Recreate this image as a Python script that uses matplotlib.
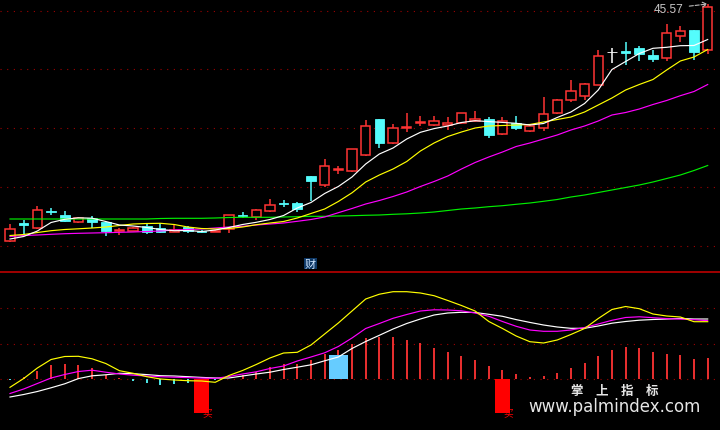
import matplotlib
matplotlib.use('Agg')
import matplotlib.pyplot as plt
import numpy as np

plt.rcParams['font.family'] = ['Liberation Sans', 'Noto Sans CJK SC', 'DejaVu Sans']

# daily bars
opens = [21.87, 23.67, 23.17, 24.87, 24.47, 23.74, 24.17, 23.74, 22.87, 22.92,
         23.42, 23.17, 22.82, 23.32, 22.92, 22.82, 23.07, 24.44, 24.32, 24.84,
         25.67, 25.67, 28.37, 27.50, 29.02, 28.84, 30.50, 34.07, 31.64, 33.19,
         33.69, 33.50, 33.50, 33.72, 33.84, 34.07, 32.57, 33.67, 32.90, 33.14,
         34.64, 36.00, 36.40, 37.50, 40.74, 40.90, 41.17, 40.47, 40.17, 42.34,
         42.97, 41.00]
closes = [23.07, 23.52, 24.97, 24.77, 23.90, 24.22, 23.80, 22.90, 22.97, 23.17,
          22.77, 22.80, 22.97, 22.87, 22.77, 22.92, 24.47, 24.37, 24.97, 25.47,
          25.59, 25.07, 27.90, 29.34, 29.12, 31.07, 33.34, 31.70, 33.14, 33.27,
          33.77, 33.84, 33.64, 34.64, 34.07, 32.47, 33.87, 33.17, 33.40, 34.57,
          35.97, 36.84, 37.57, 40.34, 40.74, 40.67, 40.57, 40.07, 42.67, 42.90,
          40.80, 45.24]
highs = [23.57, 23.97, 25.37, 25.17, 24.87, 24.27, 24.37, 23.77, 23.22, 23.32,
         23.62, 23.64, 23.62, 23.37, 23.02, 23.02, 24.47, 24.77, 25.12, 26.07,
         25.97, 25.77, 28.37, 30.07, 29.40, 31.07, 33.97, 34.07, 33.57, 34.67,
         34.34, 34.34, 34.24, 34.67, 34.90, 34.30, 34.30, 34.40, 33.57, 36.30,
         36.07, 37.97, 37.67, 41.00, 41.14, 41.80, 41.40, 40.97, 43.57, 43.34,
         42.97, 45.57]
lows = [21.77, 22.57, 23.07, 24.47, 23.77, 23.67, 23.17, 22.40, 22.50, 22.87,
        22.57, 22.72, 22.77, 22.67, 22.64, 22.77, 22.64, 24.14, 23.97, 24.77,
        25.27, 24.77, 25.90, 27.24, 28.57, 28.77, 30.34, 31.20, 31.57, 32.74,
        33.34, 33.34, 32.97, 33.57, 33.74, 32.17, 32.52, 32.97, 32.74, 32.90,
        34.57, 35.80, 35.97, 37.47, 39.64, 39.47, 39.90, 39.74, 39.90, 41.74,
        40.00, 40.57]

ma5 = [22.07, 22.32, 22.87, 23.72, 24.04, 24.19, 24.15, 23.82, 23.47, 23.37,
       23.22, 23.02, 22.90, 22.92, 22.82, 22.97, 23.22, 23.52, 23.74, 24.02,
       24.42, 25.17, 25.72, 26.62, 27.32, 28.27, 29.57, 30.57, 31.17, 32.07,
       32.74, 33.11, 33.37, 33.72, 33.90, 33.81, 33.73, 33.64, 33.47, 33.62,
       34.22, 34.77, 35.62, 36.97, 39.02, 39.82, 40.62, 41.14, 41.24, 41.40,
       41.42, 42.02]
ma10 = [22.42, 22.52, 22.72, 22.90, 23.02, 23.09, 23.17, 23.27, 23.42, 23.57,
        23.62, 23.64, 23.52, 23.27, 23.12, 23.07, 23.12, 23.27, 23.50, 23.67,
        23.82, 24.17, 24.62, 25.07, 25.82, 26.69, 27.77, 28.47, 29.07, 29.82,
        30.87, 31.67, 32.32, 32.77, 33.17, 33.37, 33.42, 33.47, 33.52, 33.77,
        34.02, 34.27, 34.77, 35.47, 36.17, 36.97, 37.52, 38.02, 38.97, 39.87,
        40.27, 41.02]
ma20 = [22.32, 22.42, 22.47, 22.54, 22.60, 22.64, 22.67, 22.70, 22.74, 22.77,
        22.82, 22.87, 22.97, 23.02, 23.07, 23.17, 23.27, 23.34, 23.47, 23.57,
        23.67, 23.84, 24.02, 24.27, 24.70, 25.12, 25.57, 25.92, 26.32, 26.77,
        27.32, 27.82, 28.37, 29.07, 29.72, 30.27, 30.77, 31.32, 31.67, 32.07,
        32.47, 32.97, 33.37, 33.87, 34.47, 34.72, 35.07, 35.52, 35.92, 36.40,
        36.82, 37.52]
ma60 = [24.07, 24.07, 24.07, 24.07, 24.07, 24.07, 24.07, 24.07, 24.07, 24.07,
        24.07, 24.12, 24.14, 24.14, 24.14, 24.17, 24.22, 24.24, 24.24, 24.24,
        24.27, 24.30, 24.34, 24.34, 24.37, 24.40, 24.44, 24.47, 24.54, 24.59,
        24.67, 24.77, 24.92, 25.07, 25.17, 25.30, 25.40, 25.54, 25.67, 25.84,
        26.02, 26.27, 26.47, 26.72, 26.97, 27.22, 27.47, 27.77, 28.12, 28.47,
        28.92, 29.42]

# lower indicator panel
ind_yellow = [-0.083, 0.005, 0.110, 0.195, 0.225, 0.227, 0.202, 0.155, 0.083, 0.057,
              0.023, 0.000, -0.010, -0.017, -0.020, -0.033, 0.035, 0.085, 0.145, 0.210,
              0.260, 0.267, 0.340, 0.450, 0.560, 0.680, 0.800, 0.848, 0.873, 0.873,
              0.860, 0.833, 0.785, 0.735, 0.680, 0.575, 0.505, 0.430, 0.373, 0.360,
              0.390, 0.445, 0.505, 0.605, 0.695, 0.725, 0.703, 0.650, 0.630, 0.620,
              0.573, 0.573]
ind_pink = [-0.145, -0.100, -0.045, 0.010, 0.045, 0.075, 0.088, 0.068, 0.050, 0.038,
            0.030, 0.023, 0.018, 0.014, 0.009, 0.006, 0.025, 0.050, 0.072, 0.105,
            0.130, 0.180, 0.220, 0.262, 0.325, 0.410, 0.505, 0.555, 0.607, 0.645,
            0.680, 0.692, 0.690, 0.682, 0.660, 0.627, 0.575, 0.527, 0.490, 0.477,
            0.477, 0.490, 0.515, 0.550, 0.587, 0.615, 0.622, 0.613, 0.604, 0.599,
            0.593, 0.583]
ind_white = [-0.180, -0.155, -0.125, -0.088, -0.048, 0.004, 0.032, 0.042, 0.057, 0.053,
             0.044, 0.033, 0.030, 0.023, 0.016, 0.010, 0.010, 0.030, 0.050, 0.068,
             0.095, 0.118, 0.142, 0.182, 0.220, 0.305, 0.375, 0.437, 0.500, 0.555,
             0.600, 0.640, 0.660, 0.667, 0.665, 0.647, 0.627, 0.594, 0.566, 0.540,
             0.520, 0.507, 0.507, 0.530, 0.558, 0.575, 0.588, 0.595, 0.600, 0.606,
             0.600, 0.600]
ind_hist = [-0.008, 0.017, 0.083, 0.140, 0.150, 0.140, 0.110, 0.040, 0.007, -0.023,
            -0.040, -0.060, -0.050, -0.040, -0.020, -0.010, 0.005, 0.045, 0.075, 0.117,
            0.150, 0.150, 0.190, 0.250, 0.290, 0.350, 0.407, 0.417, 0.417, 0.390,
            0.360, 0.310, 0.273, 0.233, 0.190, 0.133, 0.090, 0.050, 0.023, 0.030,
            0.060, 0.110, 0.160, 0.230, 0.293, 0.320, 0.310, 0.273, 0.250, 0.240,
            0.200, 0.210]
buy_idx = [14, 36]
buy_val = -0.34
blue_idx = [24]
blue_val = 0.24

price_grid = [44.90, 39.04, 33.14, 27.24, 21.40]
ind_grid = [0.71, 0.355, 0.0]

RED = '#ff3434'
CYAN = '#54fcfc'
H = 431.0

fig = plt.figure(figsize=(7.2, 4.31), dpi=100, facecolor='black')
ax = fig.add_axes([0, 1 - 272 / H, 1, 272 / H])
ax2 = fig.add_axes([0, 0, 1, 158 / H])
for a in (ax, ax2):
    a.set_facecolor('black')
    a.set_xlim(-0.731, 51.9)
    a.set_xticks([])
    a.set_yticks([])
    for s in a.spines.values():
        s.set_visible(False)
ax.set_ylim(18.87, 46.07)
ax2.set_ylim(-0.51, 1.07)

for g in price_grid:
    ax.axhline(g, color='#a00000', lw=0.8, ls=(0, (1, 5)), zorder=1)
for g in ind_grid:
    ax2.axhline(g, color='#a00000', lw=0.8, ls=(0, (1, 5)), zorder=1)

fig.add_artist(plt.Line2D([0, 1], [1 - 272.5 / H] * 2, color='#cc0000', lw=1.1))

# candles
o = np.array(opens); c = np.array(closes); h = np.array(highs); l = np.array(lows)
x = np.arange(len(o))
up = c > o
down = c < o
flat = c == o
cols = np.where(up, RED, np.where(down, CYAN, '#ffffff'))
ax.vlines(x, l, h, colors=cols, lw=1.1, zorder=2)
lo = np.minimum(o, c)
bh = np.maximum(np.abs(c - o), 0.08)
ax.bar(x[up], bh[up], bottom=lo[up], width=0.68, facecolor='black',
       edgecolor=RED, lw=1.1, zorder=3)
ax.bar(x[down], bh[down], bottom=lo[down], width=0.7, facecolor=CYAN,
       edgecolor=CYAN, lw=0.6, zorder=3)
ax.bar(x[flat], bh[flat], bottom=lo[flat], width=0.7, facecolor='white',
       edgecolor='white', lw=0.6, zorder=3)

ax.plot(x, ma60, color='#00ee00', lw=0.85, zorder=4)
ax.plot(x, ma20, color='#ff00ff', lw=0.85, zorder=4)
ax.plot(x, ma10, color='#ffff00', lw=0.85, zorder=4)
ax.plot(x, ma5, color='white', lw=0.85, zorder=4)

ax.annotate('45.57', xy=(x[-1], h[-1]), xytext=(49.25, 45.12), ha='right', va='center',
            color='#c8c8c8', fontsize=8.5,
            arrowprops=dict(arrowstyle='->,head_length=0.35,head_width=0.2',
                            color='#bcbcbc', lw=0.8, ls='--', shrinkA=2, shrinkB=0))

ax.text(21.97, 19.62, '财', ha='center', va='center', fontsize=8, color='#cfe6ff',
        bbox=dict(boxstyle='square,pad=0.08', facecolor='#0e3866', edgecolor='none'))

# lower panel
hist = np.array(ind_hist)
hcols = np.where(hist >= 0, RED, CYAN)
ax2.vlines(x, 0, hist, colors=hcols, lw=1.3, zorder=2)
ax2.bar(buy_idx, [buy_val] * len(buy_idx), width=1.1, align='center', color='#ff0000', zorder=3)
ax2.bar(blue_idx, [blue_val] * len(blue_idx), width=1.4, color='#66ccff', zorder=3)
for i in buy_idx:
    ax2.text(i + 0.44, -0.33, '买', color='#ff0000', fontsize=7, ha='center', va='center', zorder=5)

ax2.plot(x, ind_white, color='white', lw=0.85, zorder=4)
ax2.plot(x, ind_pink, color='#ff00ff', lw=0.85, zorder=4)
ax2.plot(x, ind_yellow, color='#ffff00', lw=0.85, zorder=4)

fig.text(615 / 720, 1 - 392 / H, '掌　上　指　标', ha='center', va='center', fontsize=9,
         fontweight='bold', color='#e6e6e6')
fig.text(614 / 720, 1 - 407 / H, 'www.palmindex.com', ha='center', va='center', fontsize=12,
         family=['DejaVu Sans'], color='#e6e6e6')

fig.savefig('out.png', dpi=100, facecolor='black')
